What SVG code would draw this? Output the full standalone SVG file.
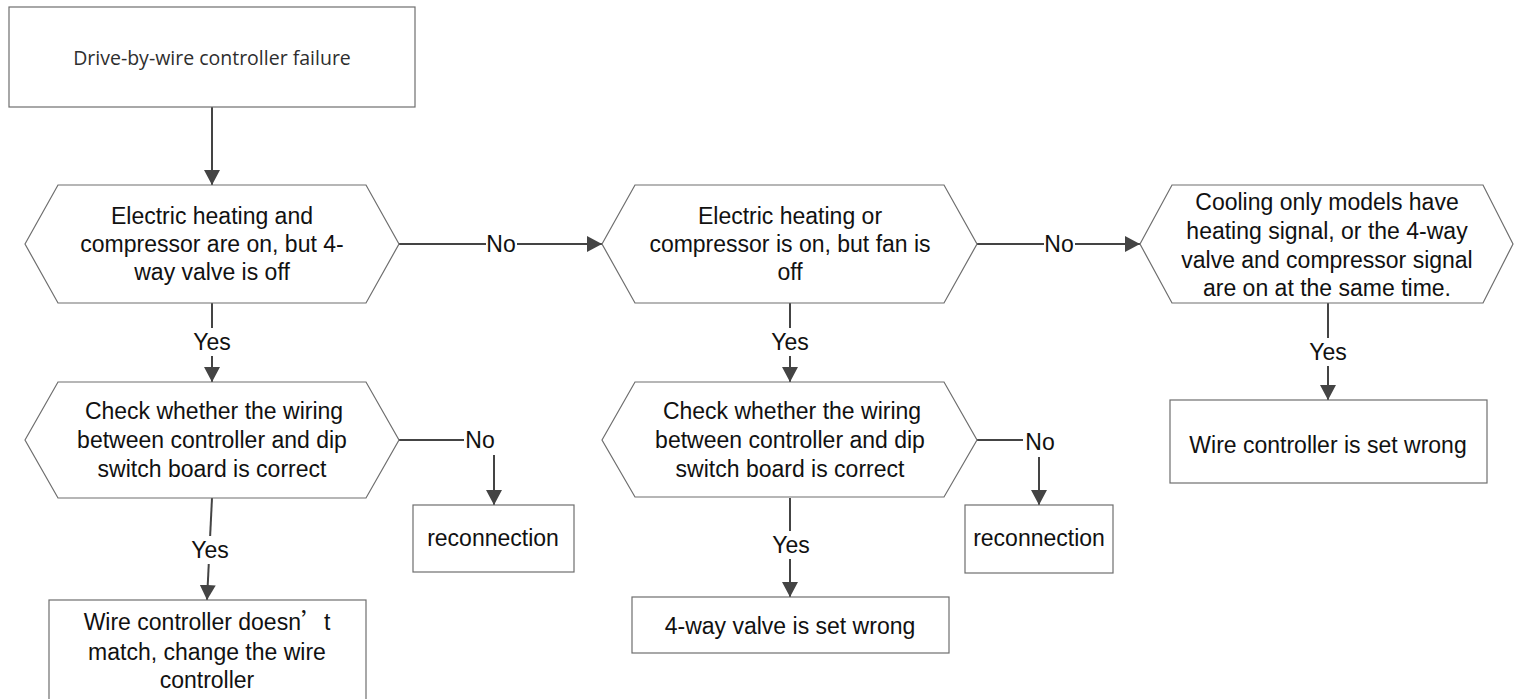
<svg xmlns="http://www.w3.org/2000/svg" width="1514" height="699" viewBox="0 0 1514 699">
<defs>
<style>
.shape{fill:#fff;stroke:#6e6e6e;stroke-width:1.2}
.t{font-family:"Liberation Sans",Arial,sans-serif;font-size:23px;fill:#111;text-anchor:middle}
.title{font-family:"Open Sans","Noto Sans",sans-serif;font-size:19.5px;fill:#2e2e2e;text-anchor:middle}
.conn{fill:none;stroke:#444;stroke-width:2}
.lbg{fill:#fff}
</style>
<marker id="arr" markerUnits="userSpaceOnUse" markerWidth="16" markerHeight="18" refX="15" refY="8" orient="auto">
<path d="M0,0 L15,8 L0,16 Z" fill="#444"/>
</marker>
</defs>
<rect width="1514" height="699" fill="#fff"/>

<g id="connectors">
<path class="conn" d="M212,107 V185" marker-end="url(#arr)"/>
<path class="conn" d="M212,303 V382" marker-end="url(#arr)"/>
<path class="conn" d="M399,244 H602" marker-end="url(#arr)"/>
<path class="conn" d="M790,303 V382" marker-end="url(#arr)"/>
<path class="conn" d="M977,244 H1140" marker-end="url(#arr)"/>
<path class="conn" d="M1328,303 V400" marker-end="url(#arr)"/>
<path class="conn" d="M212,498 L207,600" marker-end="url(#arr)"/>
<path class="conn" d="M399,440 H464"/>
<path class="conn" d="M494,455 V505" marker-end="url(#arr)"/>
<path class="conn" d="M790,498 V597" marker-end="url(#arr)"/>
<path class="conn" d="M977,440 H1023"/>
<path class="conn" d="M1039,457 V505" marker-end="url(#arr)"/>
<g id="labels">
<rect class="lbg" x="190" y="328" width="44" height="28"/>
<text class="t" x="212" y="350">Yes</text>
<rect class="lbg" x="768" y="328" width="44" height="28"/>
<text class="t" x="790" y="350">Yes</text>
<rect class="lbg" x="1306" y="338" width="44" height="28"/>
<text class="t" x="1328" y="360">Yes</text>
<rect class="lbg" x="188" y="536" width="44" height="28"/>
<text class="t" x="210" y="558">Yes</text>
<rect class="lbg" x="769" y="531" width="44" height="28"/>
<text class="t" x="791" y="553">Yes</text>
<rect class="lbg" x="486" y="232" width="31" height="24"/>
<text class="t" x="501" y="252">No</text>
<rect class="lbg" x="1044" y="232" width="31" height="24"/>
<text class="t" x="1059" y="252">No</text>
<text class="t" x="480" y="448">No</text>
<text class="t" x="1040" y="450">No</text>
</g>
</g>

<g id="start">
<rect class="shape" x="9" y="7" width="406" height="100"/>
<text class="title" x="212" y="65">Drive-by-wire controller failure</text>
</g>

<g id="hex1">
<polygon class="shape" points="25,244 58,185 366,185 399,244 366,303 58,303"/>
<text class="t" x="212" y="224">Electric heating and</text>
<text class="t" x="212" y="252">compressor are on, but 4-</text>
<text class="t" x="212" y="280">way valve is off</text>
</g>

<g id="hex2">
<polygon class="shape" points="602,244 635,185 944,185 977,244 944,303 635,303"/>
<text class="t" x="790" y="224">Electric heating or</text>
<text class="t" x="790" y="252">compressor is on, but fan is</text>
<text class="t" x="790" y="280">off</text>
</g>

<g id="hex3">
<polygon class="shape" points="1140,244 1172,185 1483,185 1513,244 1483,303 1172,303"/>
<text class="t" x="1327" y="210">Cooling only models have</text>
<text class="t" x="1327" y="239">heating signal, or the 4-way</text>
<text class="t" x="1327" y="268">valve and compressor signal</text>
<text class="t" x="1327" y="296">are on at the same time.</text>
</g>

<g id="check1">
<polygon class="shape" points="25,440 58,382 366,382 399,440 366,498 58,498"/>
<text class="t" x="214" y="419">Check whether the wiring</text>
<text class="t" x="212" y="448">between controller and dip</text>
<text class="t" x="212" y="477">switch board is correct</text>
</g>

<g id="check2">
<polygon class="shape" points="602,440 635,382 944,382 977,440 944,497 635,497"/>
<text class="t" x="792" y="419">Check whether the wiring</text>
<text class="t" x="790" y="448">between controller and dip</text>
<text class="t" x="790" y="477">switch board is correct</text>
</g>

<g id="reconnect1">
<rect class="shape" x="413" y="505" width="161" height="67"/>
<text class="t" x="493" y="546">reconnection</text>
</g>

<g id="reconnect2">
<rect class="shape" x="965" y="505" width="148" height="68"/>
<text class="t" x="1039" y="546">reconnection</text>
</g>

<g id="wire-wrong">
<rect class="shape" x="1170" y="400" width="317" height="83"/>
<text class="t" x="1328" y="453">Wire controller is set wrong</text>
</g>

<g id="mismatch">
<rect class="shape" x="49" y="600" width="317" height="130"/>
<text class="t" x="207" y="630">Wire controller doesn<tspan font-family="'Noto Sans CJK SC',sans-serif">’</tspan>t</text>
<text class="t" x="207" y="660">match, change the wire</text>
<text class="t" x="207" y="688">controller</text>
</g>

<g id="valve-wrong">
<rect class="shape" x="632" y="597" width="317" height="56"/>
<text class="t" x="790" y="634">4-way valve is set wrong</text>
</g>
</svg>
